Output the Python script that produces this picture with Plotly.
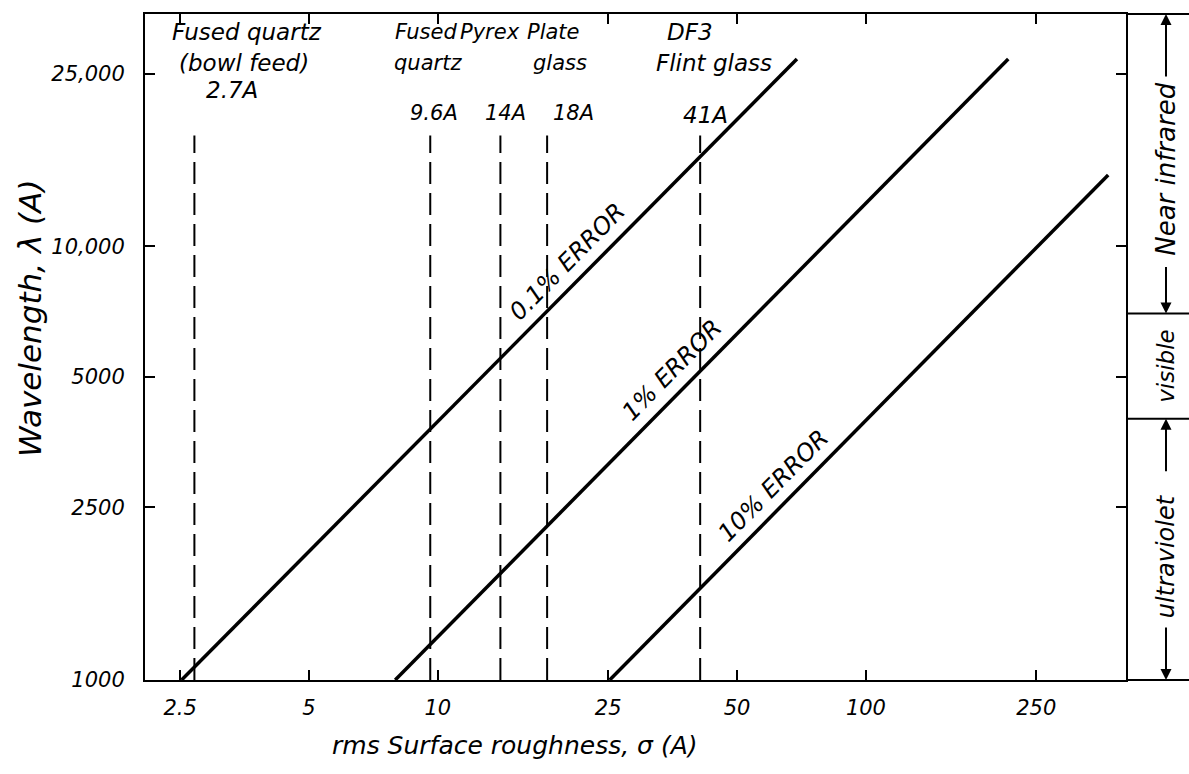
import math
import plotly.graph_objects as go

# ---------------------------------------------------------------- data
# Constant-error lines: end points (rms roughness sigma in A, wavelength in A)
error_labels = ["0.1% ERROR", "1% ERROR", "10% ERROR"]
error_sigma = [[2.52, 69.0], [7.95, 215.0], [25.2, 368.0]]
error_lambda = [[1000, 27000], [1000, 27000], [1000, 14600]]

# Measured rms roughness of the sample materials (A)
material_sigma = [2.7, 9.6, 14, 18, 41]
material_value_text = ["2.7A", "9.6A", "14A", "18A", "41A"]
material_line1 = ["Fused quartz", "Fused", "Pyrex", "Plate", "DF3"]
material_line2 = ["(bowl feed)", "quartz", "", "glass", "Flint glass"]
material_lambda_span = [1000, 18000]

# Axis ticks
x_tickvals = [2.5, 5, 10, 25, 50, 100, 250]
x_ticktext = ["2.5", "5", "10", "25", "50", "100", "250"]
y_tickvals = [1000, 2500, 5000, 10000, 25000]
y_ticktext = ["1000", "2500", "5000", "10,000", "25,000"]
x_limits = [2.07, 405]
y_limits = [1000, 34300]

# Spectral regions (wavelength edges in A)
region_names = ["ultraviolet", "visible", "Near infrared"]
region_edges = [1000, 4000, 7000, 34300]

# ---------------------------------------------------------------- layout
W, H = 1189, 774
L, R, TOP, BOT = 145, 1126, 14, 680
PW, PH = R - L, BOT - TOP
FONT = "DejaVu Sans"
INK = "black"


def px(x):
    return (x - L) / PW


def py(y):
    return (BOT - y) / PH


def ly(v):
    lo, hi = math.log10(y_limits[0]), math.log10(y_limits[1])
    return (math.log10(v) - lo) / (hi - lo)


def font(size):
    return dict(family=FONT, size=size, color=INK, style="italic")


def label(text, x, y, size, angle=0):
    return dict(text=text, xref="paper", yref="paper", x=x, y=y,
                xanchor="center", yanchor="middle", showarrow=False,
                textangle=angle, font=font(size))


fig = go.Figure()

# solid constant-error lines
for s, lam in zip(error_sigma, error_lambda):
    fig.add_trace(go.Scatter(x=s, y=lam, mode="lines",
                             line=dict(color=INK, width=3.5),
                             hoverinfo="skip", showlegend=False))

# dashed verticals at each material's roughness
dx, dy = [], []
for s in material_sigma:
    dx += [s, s, None]
    dy += [material_lambda_span[0], material_lambda_span[1], None]
fig.add_trace(go.Scatter(x=dx, y=dy, mode="lines",
                         line=dict(color=INK, width=2, dash="22px,9px"),
                         hoverinfo="skip", showlegend=False))

annotations = []

# error labels written along the lines
label_pos = [(567, 262), (672, 370), (773, 486)]
for text, (x, y) in zip(error_labels, label_pos):
    annotations.append(label(text, px(x), py(y), 24, -45.5))

# material labels above the dashed lines
line1_pos = [(247, 32), (426, 32), (490, 32), (553, 32), (690, 32)]
line2_pos = [(244, 63), (428, 63), (0, 0), (560, 63), (714, 63)]
value_pos = [(232, 90), (434, 113), (505, 113), (573, 113), (705, 115)]
label_size = [23, 21, 21, 21, 23]
for t1, t2, tv, p1, p2, pv, fs in zip(material_line1, material_line2,
                                      material_value_text, line1_pos,
                                      line2_pos, value_pos, label_size):
    for t, (x, y) in ((t1, p1), (t2, p2), (tv, pv)):
        if t:
            annotations.append(label(t, px(x), py(y), fs))

# axis titles
annotations.append(label("rms Surface roughness, σ (A)", px(515), py(745), 25))
annotations.append(label("Wavelength, λ (A)", px(30), py(318), 31, -90))

# spectral region band to the right of the plot
band_x = px(1166)
shapes = []
for e in region_edges:
    shapes.append(dict(type="line", xref="paper", yref="paper",
                       x0=1, x1=px(W + 5), y0=ly(e), y1=ly(e),
                       line=dict(color=INK, width=2)))

region_centers = [1930, 5300, 15000]
region_size = [24, 23, 26]
for name, c, fs in zip(region_names, region_centers, region_size):
    annotations.append(label(name, band_x, ly(c), fs, -90))

# arrows from the region labels out to the region edges
arrow_specs = [
    (region_edges[3], 64),    # near infrared, up to top
    (region_edges[2], -48),   # near infrared, down to visible edge
    (region_edges[1], 54),    # ultraviolet, up to visible edge
    (region_edges[0], -54),   # ultraviolet, down to bottom
]
for edge, off in arrow_specs:
    annotations.append(dict(text="", xref="paper", yref="paper",
                            x=band_x, y=ly(edge), ax=0, ay=off,
                            showarrow=True, arrowhead=2, arrowsize=1.1,
                            arrowwidth=2, arrowcolor=INK))

axis_common = dict(type="log", showline=True, linewidth=2, linecolor=INK,
                   mirror="ticks", ticks="inside", ticklen=10, tickwidth=1.5,
                   tickcolor=INK, showgrid=False, zeroline=False,
                   tickfont=font(21))

fig.update_xaxes(range=[math.log10(v) for v in x_limits],
                 tickvals=x_tickvals, ticktext=x_ticktext,
                 ticklabelstandoff=8, **axis_common)
fig.update_yaxes(range=[math.log10(v) for v in y_limits],
                 tickvals=y_tickvals, ticktext=y_ticktext,
                 ticklabelstandoff=14, **axis_common)

fig.update_layout(width=W, height=H,
                  margin=dict(l=L, r=W - R, t=TOP, b=H - BOT),
                  plot_bgcolor="white", paper_bgcolor="white",
                  showlegend=False, annotations=annotations, shapes=shapes)

fig.write_html("out.html")
